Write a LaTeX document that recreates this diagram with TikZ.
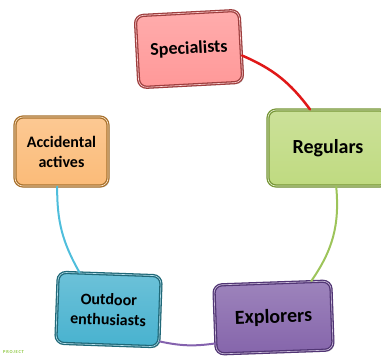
\documentclass[tikz,border=0pt]{standalone}
\usepackage{fontspec}
\setmainfont{Carlito}
\usetikzlibrary{shadows}

\definecolor{spfill}{HTML}{FF9898}
\definecolor{spdraw}{HTML}{9E3E3E}
\definecolor{rgfill}{HTML}{BFDA80}
\definecolor{rgdraw}{HTML}{779638}
\definecolor{acfill}{HTML}{FBBB78}
\definecolor{acdraw}{HTML}{A8722E}
\definecolor{odfill}{HTML}{48B2CF}
\definecolor{oddraw}{HTML}{1F6878}
\definecolor{exfill}{HTML}{8565AB}
\definecolor{exdraw}{HTML}{513574}
\definecolor{redline}{HTML}{E01818}
\definecolor{greenline}{HTML}{9DC45A}
\definecolor{blueline}{HTML}{4FBEDC}
\definecolor{purpleline}{HTML}{8462AE}
\definecolor{tagcol}{HTML}{8CC63F}

\tikzset{
  card/.style 2 args={
    rounded corners=8pt, inner sep=0pt, align=center,
    top color=#1!80!white, bottom color=#1,
    draw=#2, line width=1.3pt, double=#1!40!white, double distance=0.6pt,
    drop shadow={shadow xshift=1.5pt, shadow yshift=-1.5pt, opacity=0.35}},
  label18/.style={font=\bfseries\fontsize{18}{20}\selectfont},
  label20/.style={font=\bfseries\fontsize{20}{22}\selectfont},
  label16/.style={font=\bfseries\fontsize{16}{20}\selectfont},
  link/.style={line width=2pt, line cap=round},
}

\begin{document}
\begin{tikzpicture}[x=1pt, y=-1pt]
  \useasboundingbox (0,0) rectangle (381,357);
  \clip (0,0) rectangle (381,357);

  % the five segments
  \node[card={spfill}{spdraw}, label18, minimum width=104, minimum height=72, rotate=3]
    (S) at (189,49) {Specialists};
  \node[card={rgfill}{rgdraw}, label20, minimum width=120, minimum height=76]
    (R) at (328,148) {Regulars};
  \node[card={acfill}{acdraw}, label16, minimum width=93, minimum height=69]
    (A) at (61.5,151.5) {Accidental\\actives};
  \node[card={odfill}{oddraw}, label16, minimum width=103, minimum height=71, rotate=-2]
    (O) at (108.5,309.5) {Outdoor\\enthusiasts};
  \node[card={exfill}{exdraw}, label20, minimum width=117, minimum height=69, rotate=2]
    (E) at (273.5,317.5) {Explorers};

  % arcs joining neighbouring segments
  \draw[link, redline, line width=2.5pt] (S.-10) to[bend left=15] (R.115);
  \draw[link, greenline] (R.-78) to[bend left=20] (E.42);
  \draw[link, purpleline] (E.202) to[bend left=10] (O.-30);
  \draw[link, blueline] (A.-97) to[bend right=15] (O.130);

  \node[font=\bfseries\fontsize{4.5}{5}\selectfont, text=tagcol, inner sep=0pt, anchor=west]
    (tag) at (3,352.5) {P\,R\,O\,J\,E\,C\,T};
\end{tikzpicture}
\end{document}
